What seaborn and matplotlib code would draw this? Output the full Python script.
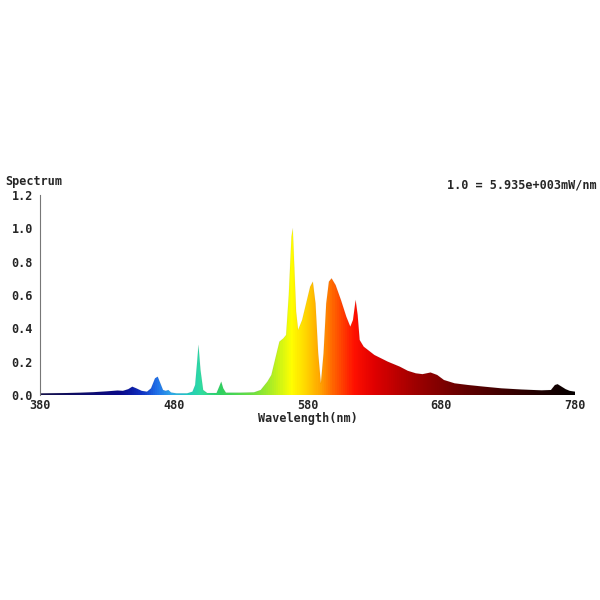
import numpy as np
import matplotlib
matplotlib.use("Agg")
import matplotlib.pyplot as plt
from matplotlib.colors import LinearSegmentedColormap
import seaborn as sns

# Data (wavelength nm, relative intensity)
wavelength = [380, 390, 400, 410, 420, 430, 438, 442, 446, 449, 452, 456, 460, 463, 466, 468,
              470, 472, 474, 476, 478, 482, 490, 494, 496, 497.5, 498.5, 500, 502, 505, 512, 514,
              515.5, 517, 519, 530, 540, 545, 550, 553, 556, 559, 562, 564, 566, 568, 569,
              570, 571.5, 573, 576, 579, 582, 584, 586, 588, 590, 592, 594, 596, 598, 601,
              605, 609, 612, 614, 616, 617.5, 619, 622, 630, 640, 649, 655, 661, 666, 672,
              677, 682, 690, 700, 712, 725, 740, 755, 762, 765, 767, 770, 773, 776, 780]
intensity = [0.010, 0.011, 0.012, 0.014, 0.017, 0.022, 0.027, 0.025, 0.035, 0.050, 0.040, 0.025,
             0.020, 0.040, 0.100, 0.110, 0.070, 0.030, 0.025, 0.030, 0.015, 0.010, 0.010, 0.020,
             0.060, 0.200, 0.300, 0.150, 0.030, 0.012, 0.012, 0.050, 0.080, 0.040, 0.014, 0.014,
             0.016, 0.030, 0.080, 0.120, 0.220, 0.320, 0.340, 0.360, 0.600, 0.950, 1.000, 0.800,
             0.500, 0.390, 0.450, 0.550, 0.650, 0.680, 0.550, 0.250, 0.070, 0.250, 0.550, 0.680,
             0.700, 0.660, 0.570, 0.470, 0.410, 0.450, 0.570, 0.480, 0.330, 0.290, 0.240, 0.200,
             0.170, 0.145, 0.130, 0.125, 0.135, 0.120, 0.090, 0.070, 0.060, 0.050, 0.040, 0.033,
             0.028, 0.030, 0.060, 0.065, 0.050, 0.035, 0.025, 0.020]

x_ticks = [380, 480, 580, 680, 780]
y_ticks = [0.0, 0.2, 0.4, 0.6, 0.8, 1.0, 1.2]
y_label = "Spectrum"
x_label = "Wavelength(nm)"
scale_note = "1.0 = 5.935e+003mW/nm"

# colour of the spectrum by wavelength (styling)
stops = [(380, "#14104a"), (440, "#0a0a8a"), (455, "#1030c0"), (467, "#2070e8"),
         (478, "#30a8e8"), (490, "#20c8c0"), (500, "#30dca0"), (515, "#30d060"),
         (540, "#70e040"), (555, "#b8f020"), (568, "#ffff00"), (580, "#ffd000"),
         (590, "#ffa000"), (600, "#ff6000"), (615, "#ff1000"), (630, "#e00000"),
         (660, "#a00000"), (700, "#600000"), (740, "#300000"), (780, "#050000")]
cmap = LinearSegmentedColormap.from_list(
    "spec", [((w - 380) / 400, c) for w, c in stops])

sns.set_style("white")
plt.rcParams["font.family"] = ["DejaVu Sans Mono"]
plt.rcParams["font.weight"] = "bold"

fig = plt.figure(figsize=(6, 6), dpi=100)
ax = fig.add_axes([40 / 600, 1 - 395 / 600, 535 / 600, 200 / 600])

poly = ax.fill_between(wavelength, intensity, 0, color="none", lw=0)
grad = np.linspace(0, 1, 800).reshape(1, -1)
im = ax.imshow(grad, cmap=cmap, aspect="auto", extent=(380, 780, 0, 1.2),
               origin="lower", zorder=1)
path = poly.get_paths()[0]
im.set_clip_path(path, transform=ax.transData)

sns.lineplot(x=wavelength, y=intensity, ax=ax, color="#000000", alpha=0.06, lw=0.5)

ax.set_xlim(380, 780)
ax.set_ylim(0, 1.2)
ax.set_xticks(x_ticks)
ax.set_xticklabels([str(t) for t in x_ticks], fontsize=8.5, fontweight="bold")
ax.set_yticks(y_ticks)
ax.set_yticklabels([f"{t:.1f}" for t in y_ticks], fontsize=8.5, fontweight="bold")
ax.tick_params(axis="y", length=3, width=0.8, color="#777777", pad=2)
ax.tick_params(axis="x", length=0, pad=3)

for s in ["top", "right", "bottom"]:
    ax.spines[s].set_visible(False)
ax.spines["left"].set_color("#777777")
ax.spines["left"].set_linewidth(0.8)

ax.set_xlabel(x_label, fontsize=8.5, fontweight="bold", labelpad=0)
fig.text(5 / 600, 1 - 182 / 600, y_label, fontsize=8.5, fontweight="bold",
         ha="left", va="center")
fig.text(597 / 600, 1 - 185 / 600, scale_note, fontsize=8.5, fontweight="bold",
         ha="right", va="center")

fig.savefig("out.png", dpi=100, facecolor="white")
